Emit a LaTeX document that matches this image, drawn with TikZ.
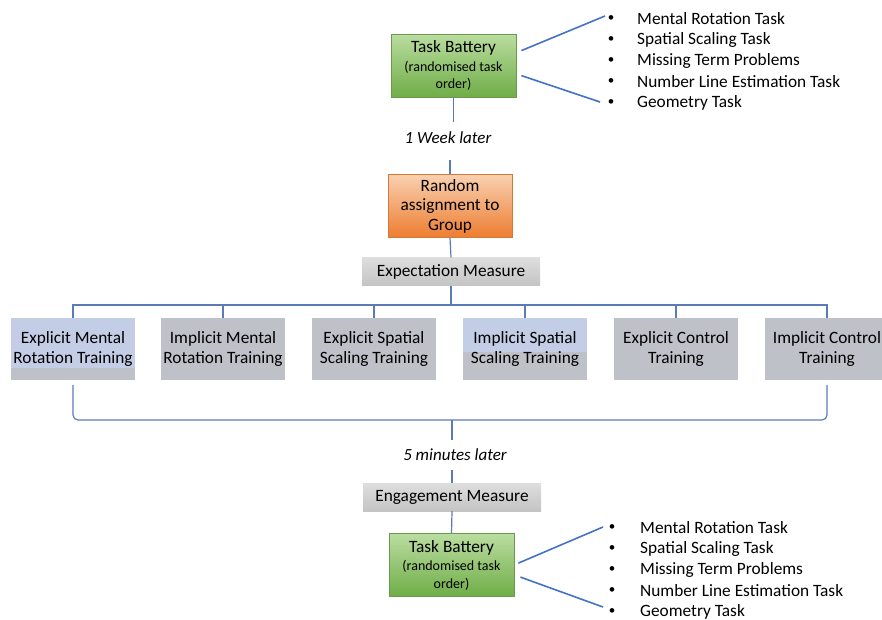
\documentclass[tikz,border=0pt]{standalone}
\usepackage{fontspec}
\setmainfont{Carlito}
\usetikzlibrary{calc}
\definecolor{linkblue}{HTML}{4472C4}
\definecolor{treeblue}{HTML}{5B7BB8}
\definecolor{greentop}{HTML}{BADDA0}
\definecolor{greenbot}{HTML}{6FAD47}
\definecolor{greenedge}{HTML}{6A9A4A}
\definecolor{orangetop}{HTML}{F9D0B0}
\definecolor{orangebot}{HTML}{ED7D31}
\definecolor{orangeedge}{HTML}{D8773A}
\definecolor{graytop}{HTML}{DEDEDE}
\definecolor{graybot}{HTML}{C4C4C4}
\definecolor{traingray}{HTML}{BFC1C8}
\definecolor{trainblue}{HTML}{C3CDE5}
\tikzset{
  txt/.style={font=\fontsize{17.3}{19.5}\selectfont},
  battery/.style={draw=greenedge, line width=0.8pt, top color=greentop, bottom color=greenbot,
    minimum width=125pt, minimum height=63pt, inner sep=0pt, align=center},
  randbox/.style={draw=orangeedge, line width=0.8pt, top color=orangetop, bottom color=orangebot,
    minimum width=124pt, minimum height=63pt, inner sep=0pt, align=center, txt},
  measure/.style={top color=graytop, bottom color=graybot,
    minimum width=178pt, minimum height=28pt, inner sep=0pt, font=\fontsize{17.3}{19}\selectfont},
  train/.style={fill=traingray, minimum width=124pt, minimum height=62pt, inner sep=0pt,
    align=center, txt},
  blueband/.style={path picture={\fill[trainblue] (path picture bounding box.north west)
    rectangle ([yshift=-#1]path picture bounding box.north east);}},
  link/.style={draw=linkblue, line width=1.6pt},
  tree/.style={draw=treeblue, line width=1.2pt},
  later/.style={font=\fontsize{17}{19}\selectfont\itshape, fill=white, inner sep=1pt},
  item/.style={anchor=west, inner sep=0pt, txt},
  bul/.style={inner sep=0pt, font=\fontsize{13}{15}\selectfont}
}
\newcommand{\battxt}{Task Battery\\[-1pt]{\fontsize{14}{15}\selectfont (randomised task}\\[-2pt]{\fontsize{14}{15}\selectfont order)}}
\begin{document}
\begin{tikzpicture}[x=1pt,y=-1pt]
\useasboundingbox (0,0) rectangle (882,619);
% top battery
\node[battery, txt] (tb1) at (453.5,65.5) {\battxt};
\node[randbox] (rand) at (450,206) {Random\\assignment to\\Group};
\node[measure] (exp) at (451,271.5) {Expectation Measure};
% top bullet list
\foreach \t [count=\i] in {Mental Rotation Task, Spatial Scaling Task, Missing Term Problems, Number Line Estimation Task, Geometry Task}{
  \node[bul] (b1\i) at (611,{19+20.9*(\i-1)}) {•};
  \node[item] (t1\i) at (637,{19+20.9*(\i-1)}) {\t};
}
\coordinate (u1) at (605,16);
\coordinate (u2) at (600,102);
\draw[link] ($(tb1.north east)+(5,17)$) -- (u1);
\draw[link] ($(tb1.north east)+(5,42)$) -- (u2);
% 1 week later
\node[later] (wk) at (448,138) {1 Week later};
\draw[tree] (tb1.south) -- (tb1.south |- 0,122);
\draw[tree] (rand.north) -- (rand.north |- 0,160);
\draw[tree] (rand.south) -- (exp.north);
% training boxes
\node[train, blueband=50pt] (tr1) at (73,349) {Explicit Mental\\Rotation Training};
\node[train] (tr2) at (223,349) {Implicit Mental\\Rotation Training};
\node[train] (tr3) at (374,349) {Explicit Spatial\\Scaling Training};
\node[train, blueband=34pt] (tr4) at (525,349) {Implicit Spatial\\Scaling Training};
\node[train] (tr5) at (676,349) {Explicit Control\\Training};
\node[train] (tr6) at (827,349) {Implicit Control\\Training};
\coordinate (bar) at (0,305);
\draw[tree] (exp.south) -- (exp.south |- bar);
\draw[tree] (tr1.north) -- (tr1.north |- bar) -- (tr6.north |- bar) -- (tr6.north);
\foreach \k in {2,3,4,5}{\draw[tree] (tr\k.north) -- (tr\k.north |- bar);}
% bracket
\coordinate (brk) at (0,420);
\draw[tree, rounded corners=5pt] ([yshift=-5pt]tr1.south) -- (tr1.south |- brk) -- (tr6.south |- brk) -- ([yshift=-5pt]tr6.south);
% 5 minutes later
\node[measure] (eng) at (452,497) {Engagement Measure};
\node[later] (mn) at (455,455) {5 minutes later};
\draw[tree] (eng.north |- brk) -- (eng.north |- 0,440);
\draw[tree] (eng.north) -- (eng.north |- 0,470);
% bottom battery
\node[battery, txt] (tb2) at (451.5,565) {\battxt};
\draw[tree] (eng.south) -- (tb2.north);
\foreach \t [count=\i] in {Mental Rotation Task, Spatial Scaling Task, Missing Term Problems, Number Line Estimation Task, Geometry Task}{
  \node[bul] (b2\i) at (612,{528+20.9*(\i-1)}) {•};
  \node[item] (t2\i) at (640,{528+20.9*(\i-1)}) {\t};
}
\coordinate (v1) at (603,527);
\coordinate (v2) at (603,607);
\draw[link] ($(tb2.north east)+(4,30)$) -- (v1);
\draw[link] ($(tb2.north east)+(6,44)$) -- (v2);
\end{tikzpicture}
\end{document}
